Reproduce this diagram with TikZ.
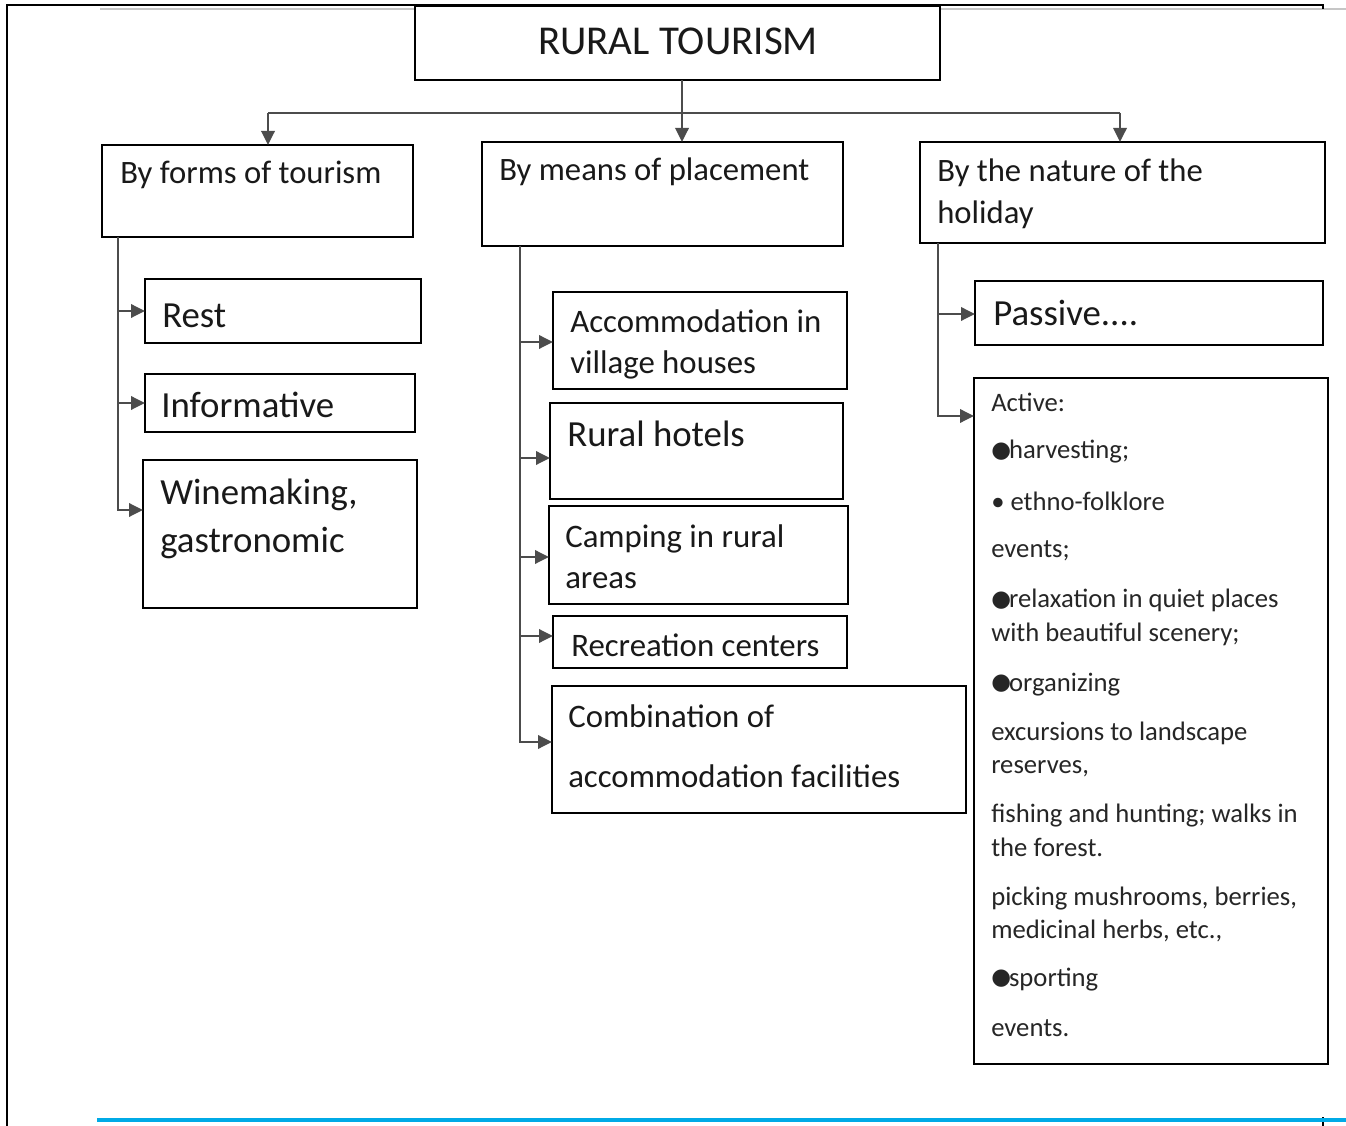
\documentclass[tikz,border=0pt]{standalone}
\usepackage{fontspec}
\setmainfont{Carlito}
\newfontfamily\dejavu{DejaVu Sans}
\usetikzlibrary{arrows.meta,shadows,calc}
\newcommand\mkbox[5]{\node[box, minimum width={(#4-#2)*0.75pt}, minimum height={(#5-#3)*0.75pt}] (#1) at ({(#2+#4)/2},{(#3+#5)/2}) {};}
\newcommand\bul{\raisebox{0.8pt}{\dejavu\fontsize{17}{18}\selectfont ●}\hspace{-1.5pt}}
\begin{document}
\begin{tikzpicture}[x=0.75pt,y=-0.75pt,
 box/.style={draw=black, line width=1pt, fill=white, inner sep=0pt, outer sep=0pt, rectangle,
   drop shadow={shadow xshift=0.9pt, shadow yshift=-0.9pt, fill=black!45, opacity=0.7}},
 conn/.style={draw=black!70, line width=1.8pt},
 arr/.style={conn, -{Triangle[length=10.5pt,width=10pt]}},
 ttl/.style={font=\fontsize{30.75}{36}\selectfont, anchor=base, text=black!90, inner sep=0pt},
 hd/.style={font=\fontsize{24.5}{29}\selectfont, anchor=base west, inner sep=0pt, text=black!90},
 big/.style={font=\fontsize{27.6}{33}\selectfont, anchor=base west, inner sep=0pt, text=black!90},
 mid/.style={font=\fontsize{24.6}{29}\selectfont, anchor=base west, inner sep=0pt, text=black!90},
 sm/.style={font=\fontsize{20}{24}\selectfont, anchor=base west, inner sep=0pt, text=black!85},
]
\useasboundingbox (0,0) rectangle (1346,1126);
% page frame
\draw[gray!45, line width=1.5pt] (100,9) -- (415,9);
\draw[gray!45, line width=1.5pt] (940,9) -- (1346,9);
\draw[black, line width=1.5pt] (7,1126) -- (7,5) -- (1323,5) -- (1323,9);
\draw[black, line width=0.8pt] (1323,1117) -- (1323,1126);
\draw[color={rgb,255:red,0;green,170;blue,230}, line width=2.4pt] (97,1120) -- (1346,1120);

% boxes
\mkbox{title}{415}{6}{940}{80}
\mkbox{b1}{102}{145}{413}{237}
\mkbox{b2}{482}{142}{843}{246}
\mkbox{b3}{920}{142}{1325}{243}
\mkbox{rest}{145}{279}{421}{343}
\mkbox{info}{145}{374}{415}{432}
\mkbox{wine}{143}{460}{417}{608}
\mkbox{accom}{553}{292}{847}{389}
\mkbox{hotel}{550}{403}{843}{499}
\mkbox{camp}{549}{506}{848}{604}
\mkbox{recr}{553}{616}{847}{668}
\mkbox{comb}{552}{686}{966}{813}
\mkbox{pass}{975}{281}{1323}{345}
\mkbox{act}{974}{378}{1328}{1064}

% texts
\node[ttl] (tt) at (678,55) {RURAL TOURISM};
\node[hd] (t1) at (120,184) {By forms of tourism};
\node[hd] (t2) at (499,181) {By means of placement};
\node[hd] (t3a) at (937,182) {By the nature of the};
\node[hd] (t3b) at (937,224) {holiday};
\node[big] (trest) at (162,328) {Rest};
\node[big] (tinfo) at (161,418) {Informative};
\node[big] (twa) at (160,505) {Winemaking,};
\node[big] (twb) at (160,553) {gastronomic};
\node[mid] (tac1) at (570,333) {Accommodation in};
\node[mid] (tac2) at (570,374) {village houses};
\node[big] (thot) at (567,447) {Rural hotels};
\node[mid] (tca1) at (565,547) {Camping in rural};
\node[mid] (tca2) at (565,589) {areas};
\node[mid] (trec) at (571,656) {Recreation centers};
\node[mid] (tco1) at (568,727) {Combination of};
\node[mid] (tco2) at (568,787) {accommodation facilities};
\node[big] (tpas) at (993,326) {Passive....};

\node[sm] (a1) at (991,412) {Active:};
\node[sm] (a2) at (991,459) {\bul harvesting;};
\node[sm] (a3) at (991,511) {• ethno-folklore};
\node[sm] (a4) at (991,558) {events;};
\node[sm] (a5) at (991,608) {\bul relaxation in quiet places};
\node[sm] (a6) at (991,641) {with beautiful scenery;};
\node[sm] (a7) at (991,691) {\bul organizing};
\node[sm] (a8) at (991,740) {excursions to landscape};
\node[sm] (a9) at (991,773) {reserves,};
\node[sm] (a10) at (991,822) {fishing and hunting; walks in};
\node[sm] (a11) at (991,856) {the forest.};
\node[sm] (a12) at (991,905) {picking mushrooms, berries,};
\node[sm] (a13) at (991,938) {medicinal herbs, etc.,};
\node[sm] (a14) at (991,986) {\bul sporting};
\node[sm] (a15) at (991,1036) {events.};

% connector coordinates
\coordinate (jm) at (682,113);
\coordinate (jl) at (268,113);
\coordinate (jr) at (1120,113);
\coordinate (xL) at (118,0);
\coordinate (xM) at (520,0);
\coordinate (xR) at (938,0);
\coordinate (yW) at (0,510);
\coordinate (yA) at (0,342);
\coordinate (yH) at (0,458);
\coordinate (yC) at (0,557);
\coordinate (yR) at (0,636);
\coordinate (yK) at (0,742);
\coordinate (yP) at (0,314);
\coordinate (yT) at (0,416);

\draw[conn] (jm |- title.south) -- (jm);
\draw[conn] (jl) -- (jr);
\draw[arr] (jl) -- (jl |- b1.north);
\draw[arr] (jm) -- (jm |- b2.north);
\draw[arr] (jr) -- (jr |- b3.north);

\draw[arr] (b1.south -| xL) |- (rest.west);
\draw[arr] (b1.south -| xL) |- (info.west);
\draw[arr] (b1.south -| xL) |- (wine.west |- yW);

\draw[arr] (b2.south -| xM) |- (accom.west |- yA);
\draw[arr] (b2.south -| xM) |- (hotel.west |- yH);
\draw[arr] (b2.south -| xM) |- (camp.west |- yC);
\draw[arr] (b2.south -| xM) |- (recr.west |- yR);
\draw[arr] (b2.south -| xM) |- (comb.west |- yK);

\draw[arr] (b3.south -| xR) |- (pass.west |- yP);
\draw[arr] (b3.south -| xR) |- (act.west |- yT);
\end{tikzpicture}
\end{document}
